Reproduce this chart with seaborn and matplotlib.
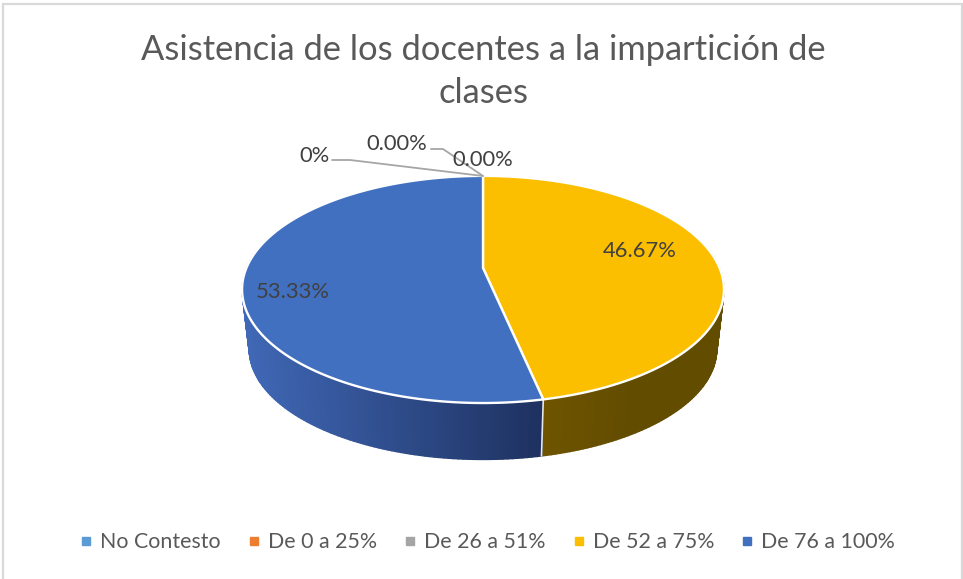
import numpy as np
import matplotlib
matplotlib.use("Agg")
import matplotlib.pyplot as plt
from matplotlib.lines import Line2D
from matplotlib.patches import Polygon, Rectangle
import seaborn as sns

categories = ["No Contesto", "De 0 a 25%", "De 26 a 51%", "De 52 a 75%", "De 76 a 100%"]
shares = [0.0, 0.0, 0.0, 46.67, 53.33]
value_labels = ["0%", "0.00%", "0.00%", "46.67%", "53.33%"]
title_lines = ["Asistencia de los docentes a la impartición de", "clases"]
colors = ["#5b9bd5", "#ed7d31", "#a5a5a5", "#fbbf00", "#4270c0"]

sns.set_theme(style="white")
plt.rcParams["font.family"] = ["Lato", "DejaVu Sans"]

TEXT = "#404040"
fig = plt.figure(figsize=(9.63, 5.79), dpi=100, facecolor="white")
ax = fig.add_axes([0, 0, 1, 1])
ax.set_xlim(0, 963)
ax.set_ylim(579, 0)
ax.axis("off")

# chart frame
ax.add_patch(Rectangle((3, 4), 959, 580, fc="white", ec="#d9d9d9", lw=1.6, zorder=0))

# tilted-disc projection
CX, CY, R, A, C = 483.0, 268.0, 236.6, 109.5, 0.189
BOTTOM_SCALE, DROP = 0.97, 60.5


def top_rim(theta):
    u, v = np.sin(theta), np.cos(theta)
    d = 1 + C * v
    return CX + R * u / d, CY - A * v / d


def bottom_rim(theta):
    x, y = top_rim(theta)
    return CX + BOTTOM_SCALE * (x - CX), CY + BOTTOM_SCALE * (y - CY) + DROP


cum = np.cumsum([0.0] + shares) / sum(shares) * 2 * np.pi
edges = list(zip(cum[:-1], cum[1:]))

# side wall, shaded strip by strip
blue_left = np.array(matplotlib.colors.to_rgb("#4068b6"))
blue_right = np.array(matplotlib.colors.to_rgb("#1e3160"))
yellow_near = np.array(matplotlib.colors.to_rgb("#6e5400"))
yellow_far = np.array(matplotlib.colors.to_rgb("#624c00"))
yellow_end, blue_end = edges[3][1], edges[4][1]
for a, b in zip(np.radians(np.arange(80, 280, 1.0)), np.radians(np.arange(81, 281, 1.0))):
    mid = (a + b) / 2
    xa, ya = top_rim(a)
    xb, yb = top_rim(b)
    xc, yc = bottom_rim(b)
    xd, yd = bottom_rim(a)
    if mid < yellow_end:
        t = np.clip((yellow_end - mid) / np.radians(20), 0, 1)
        col = yellow_near * (1 - t) + yellow_far * t
    else:
        t = np.clip((CX + 60 - (xa + xb) / 2) / 300, 0, 1)
        col = blue_right * (1 - t) + blue_left * t
    ax.add_patch(Polygon([(xa, ya), (xb, yb), (xc, yc), (xd, yd)], fc=col, ec=col, lw=1.0, zorder=2))

# divider on the wall
x0, y0 = top_rim(yellow_end)
x1, y1 = bottom_rim(yellow_end)
ax.plot([x0, x1], [y0, y1], color="#e8e8e8", lw=1.2, zorder=3)

# top face
for (a, b), col in zip(edges, colors):
    if b - a <= 0:
        continue
    th = np.linspace(a, b, 240)
    xs, ys = top_rim(th)
    pts = [(CX, CY)] + list(zip(xs, ys))
    ax.add_patch(Polygon(pts, closed=True, fc=col, ec="white", lw=1.7, zorder=4, joinstyle="round"))

# leader lines and value labels
ax.plot([332, 350, CX], [160, 160, 176], color="#a6a6a6", lw=1.3, zorder=5)
ax.plot([431, 443, CX], [149, 149, 176], color="#a6a6a6", lw=1.3, zorder=5)
label_pos = [(314, 156), (397, 144), (483, 160), (640, 251), (293, 292)]
for lab, (x, y) in zip(value_labels, label_pos):
    ax.text(x, y, lab, ha="center", va="center", fontsize=15.8, color=TEXT, zorder=6)

# title
for line, y in zip(title_lines, (50, 93)):
    ax.text(483, y, line, ha="center", va="center", fontsize=24.8, color="#595959", zorder=6)

# legend
handles = [Line2D([], [], ls="none", marker="s", ms=6, color=c, mec=c) for c in colors]
leg = ax.legend(handles, categories, ncol=5, loc="center", bbox_to_anchor=(485.5 / 963, 1 - 542 / 579),
                frameon=False, fontsize=15.4, labelcolor="#595959", handlelength=1.0,
                handletextpad=0.15, columnspacing=1.05, borderpad=0)
fig.savefig("out.png", dpi=100, facecolor="white")
